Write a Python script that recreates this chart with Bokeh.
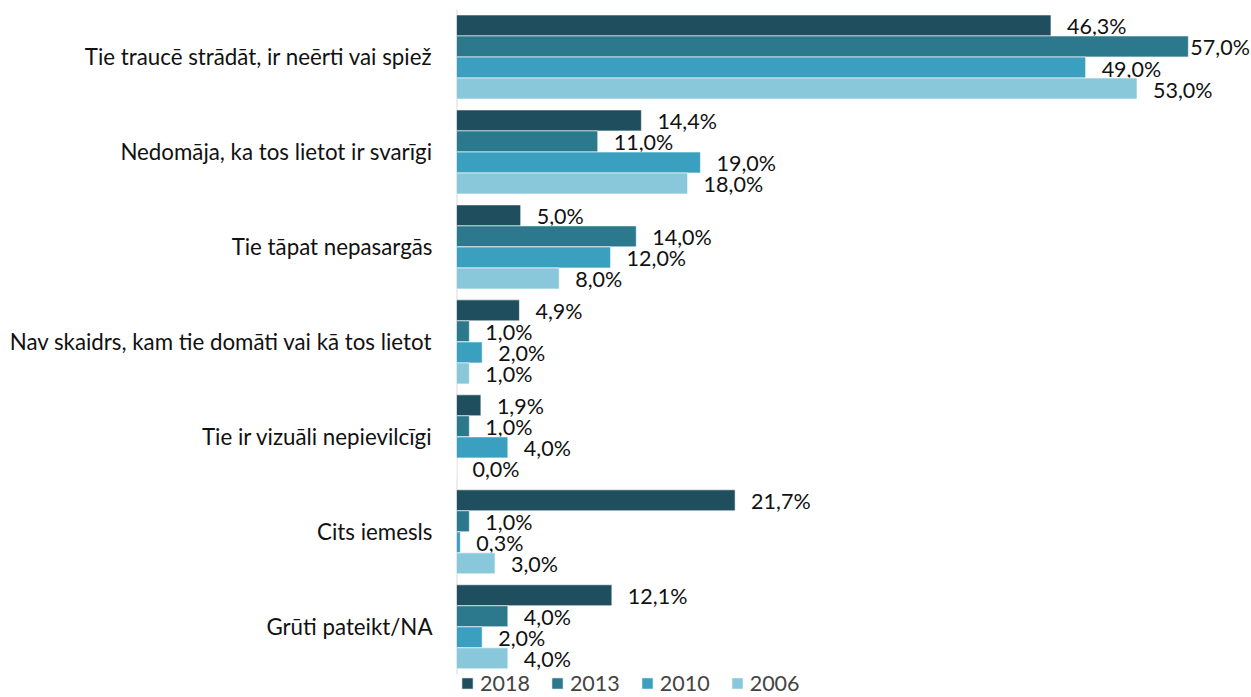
from bokeh.plotting import figure
from bokeh.models import ColumnDataSource, Range1d, Legend, LegendItem, FixedTicker
from bokeh.core.properties import value
from bokeh.embed import file_html
from bokeh.resources import INLINE

categories = [
    "Tie traucē strādāt, ir neērti vai spiež",
    "Nedomāja, ka tos lietot ir svarīgi",
    "Tie tāpat nepasargās",
    "Nav skaidrs, kam tie domāti vai kā tos lietot",
    "Tie ir vizuāli nepievilcīgi",
    "Cits iemesls",
    "Grūti pateikt/NA",
]
years = ["2018", "2013", "2010", "2006"]
v2018 = [46.3, 14.4, 5.0, 4.9, 1.9, 21.7, 12.1]
v2013 = [57.0, 11.0, 14.0, 1.0, 1.0, 1.0, 4.0]
v2010 = [49.0, 19.0, 12.0, 2.0, 4.0, 0.3, 2.0]
v2006 = [53.0, 18.0, 8.0, 1.0, 0.0, 3.0, 4.0]
series = [v2018, v2013, v2010, v2006]
colors = ["#1f4f5e", "#2c788c", "#3ba0c0", "#89c8da"]
offsets = [-0.332, -0.111, 0.111, 0.332]
bar_h = 0.221

FONT = "Lato"
n = len(categories)
idx = list(range(n))

p = figure(
    width=1250, height=696,
    y_range=Range1d(n - 0.5 + 0.234, -0.5),
    x_range=Range1d(0, 61.84),
    output_backend="svg", toolbar_location=None,
    min_border_top=9, min_border_right=0, min_border_bottom=0, min_border_left=456,
)
p.outline_line_color = None
p.grid.grid_line_color = None
p.xaxis.visible = False

# category axis line (only across the category bands)
p.segment(x0=[0], y0=[-0.5], x1=[0], y1=[n - 0.5], line_color="#d9d9d9", line_width=2)

items = []
for yr, vals, col, off in zip(years, series, colors, offsets):
    src = ColumnDataSource(dict(
        y=[i + off for i in idx],
        val=vals,
        lab=[("%.1f%%" % v).replace(".", ",") for v in vals],
        xo=[2 if v > 55 else 16 for v in vals],
    ))
    r = p.hbar(y="y", right="val", left=0, height=bar_h, source=src,
               color=col, line_color="white", line_width=0.6)
    p.text(x="val", y="y", text="lab", source=src,
           x_offset="xo", y_offset=1, text_baseline="middle", text_align="left",
           text_font=value(FONT), text_font_size="21.5px", text_color="#111111")
    items.append(LegendItem(label=yr, renderers=[r]))

ax = p.yaxis[0]
ax.ticker = FixedTicker(ticks=idx)
ax.major_label_overrides = {i: c for i, c in zip(idx, categories)}
ax.axis_line_color = None
ax.major_tick_line_color = None
ax.minor_tick_line_color = None
ax.major_label_standoff = 18
ax.major_label_text_font = FONT
ax.major_label_text_font_size = "22.3px"
ax.major_label_text_color = "#111111"

legend = Legend(items=items, orientation="horizontal", location=(4, 0),
                margin=0, padding=0, spacing=20, glyph_width=14, glyph_height=14,
                label_text_font=FONT, label_text_font_size="21.5px", label_standoff=6,
                border_line_color=None, background_fill_alpha=0, label_height=14)
p.add_layout(legend)

open("out.html", "w").write(file_html(p, INLINE))
